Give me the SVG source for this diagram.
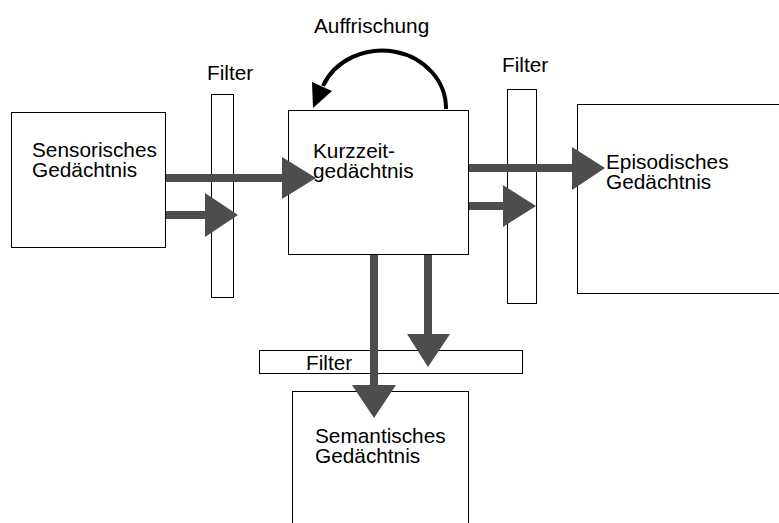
<svg xmlns="http://www.w3.org/2000/svg" width="779" height="523" viewBox="0 0 779 523">
<style>
.box{fill:#fff;stroke:#000;stroke-width:1}
.t{font-family:"Liberation Sans",Arial,sans-serif;font-size:20.8px;fill:#000}
.ar{fill:#4d4d4d}
</style>
<rect width="779" height="523" fill="#fff"/>
<g id="sensorisch">
<rect class="box" x="11.5" y="112.5" width="154" height="135"/>
<text class="t" x="32" y="157">Sensorisches</text>
<text class="t" x="32" y="177">Gedächtnis</text>
</g>
<g id="filter1">
<rect class="box" x="211.5" y="94.5" width="22" height="203"/>
<text class="t" x="207" y="80">Filter</text>
</g>
<g id="kurzzeit">
<rect class="box" x="288.5" y="110.5" width="180" height="144"/>
<text class="t" x="313" y="158">Kurzzeit-</text>
<text class="t" x="313" y="178">gedächtnis</text>
</g>
<g id="filter2">
<rect class="box" x="507.5" y="89.5" width="29" height="214"/>
<text class="t" x="502" y="72">Filter</text>
</g>
<g id="episodisch">
<rect class="box" x="577.5" y="104.5" width="220" height="189"/>
<text class="t" x="606" y="169">Episodisches</text>
<text class="t" x="606" y="189">Gedächtnis</text>
</g>
<g id="filter3">
<rect class="box" x="259.5" y="350.5" width="263" height="23"/>
<text class="t" x="306" y="370">Filter</text>
</g>
<g id="semantisch">
<rect class="box" x="292.5" y="391.5" width="176" height="150"/>
<text class="t" x="315" y="443">Semantisches</text>
<text class="t" x="315" y="463">Gedächtnis</text>
</g>
<g id="auffrischung-label">
<text class="t" x="314" y="33">Auffrischung</text>
</g>
<g id="connectors">
<rect class="ar" x="166" y="174" width="117" height="8"/>
<polygon class="ar" points="282,157 316,178 282,199"/>
<rect class="ar" x="166" y="211" width="40" height="8"/>
<polygon class="ar" points="205,193 238,215 205,237"/>
<rect class="ar" x="469" y="164" width="104" height="8"/>
<polygon class="ar" points="572,147 605,168 572,190"/>
<rect class="ar" x="469" y="202" width="35" height="8"/>
<polygon class="ar" points="503,185 536,206 503,227"/>
<rect class="ar" x="370" y="255" width="8" height="131"/>
<polygon class="ar" points="352,385 396,385 374,418"/>
<rect class="ar" x="424" y="255" width="8" height="80"/>
<polygon class="ar" points="407,334 450,334 428,367"/>
<path d="M446,109 A64,58 0 0 0 323,86" fill="none" stroke="#000" stroke-width="4"/>
<polygon points="313,108 312,82 332,91" fill="#000"/>
</g>
</svg>
